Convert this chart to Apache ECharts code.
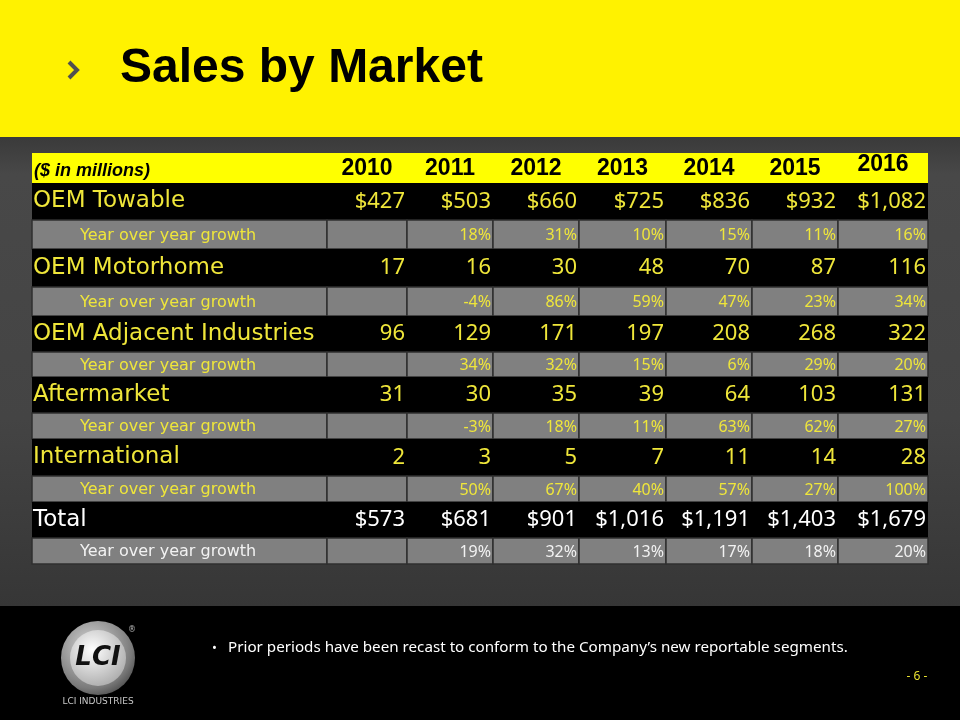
<!DOCTYPE html>
<html><head><meta charset="utf-8">
<script src="https://cdn.jsdelivr.net/npm/echarts@6/dist/echarts.min.js"></script>
<style>html,body{margin:0;padding:0;background:#000}#c{width:960px;height:720px}</style>
</head><body><div id="c"></div>
<script>
// ---- data ----
const title = 'Sales by Market';
const unitLabel = '($ in millions)';
const years = ['2010','2011','2012','2013','2014','2015','2016'];
const markets = ['OEM Towable','OEM Motorhome','OEM Adjacent Industries','Aftermarket','International','Total'];
const growthLabel = 'Year over year growth';
const oemTowable = [427,503,660,725,836,932,1082];
const oemTowableGrowth = [null,18,31,10,15,11,16];
const oemMotorhome = [17,16,30,48,70,87,116];
const oemMotorhomeGrowth = [null,-4,86,59,47,23,34];
const oemAdjacent = [96,129,171,197,208,268,322];
const oemAdjacentGrowth = [null,34,32,15,6,29,20];
const aftermarket = [31,30,35,39,64,103,131];
const aftermarketGrowth = [null,-3,18,11,63,62,27];
const international = [2,3,5,7,11,14,28];
const internationalGrowth = [null,50,67,40,57,27,100];
const total = [573,681,901,1016,1191,1403,1679];
const totalGrowth = [null,19,32,13,17,18,20];
const dollarMarkets = ['OEM Towable','Total'];
const footnote = 'Prior periods have been recast to conform to the Company\u2019s new reportable segments.';
const pageLabel = '- 6 -';
const companyName = 'LCI INDUSTRIES';

// ---- layout (table axis units) ----
const colEdges = [0,295,375,461,547,634,720,806,896];
const rowEdges = [0,30,67,96,134,163,199,224,260,286,323,349,385,411];

const YELLOW_TXT = '#EFE63A';
const LABEL_FONT = '"DejaVu Sans", sans-serif';
const NUM_FONT = '"Noto Sans", sans-serif';
const HEAD_FONT = '"Liberation Sans", Arial, sans-serif';

const valueSeries = [oemTowable, oemMotorhome, oemAdjacent, aftermarket, international, total];
const growthSeries = [oemTowableGrowth, oemMotorhomeGrowth, oemAdjacentGrowth, aftermarketGrowth, internationalGrowth, totalGrowth];

function fmtVal(m, v) {
  return dollarMarkets.indexOf(m) >= 0 ? '$' + v.toLocaleString('en-US') : v.toLocaleString('en-US');
}

const bands = [];
const cells = [];
bands.push({ c0: 0, c1: 8, r: 0, fill: '#FFFF00', stroke: null });
cells.push({ c0: 0, c1: 1, r: 0, text: unitLabel, align: 'left', pad: 2, font: 'italic bold 18px ' + HEAD_FONT, color: '#000', dy: 3 });
years.forEach((y, i) => {
  cells.push({ c0: i + 1, c1: i + 2, r: 0, text: y, align: 'center', pad: 0, font: 'bold 23px ' + HEAD_FONT, color: '#000', dy: i === years.length - 1 ? -3 : 1 });
});
markets.forEach((m, k) => {
  const rv = 1 + k * 2, rg = rv + 1;
  const isTotal = m === 'Total';
  const txt = isTotal ? '#FFFFFF' : YELLOW_TXT;
  const gtxt = isTotal ? '#F2F2F2' : YELLOW_TXT;
  bands.push({ c0: 0, c1: 8, r: rv, fill: '#000000', stroke: null });
  cells.push({ c0: 0, c1: 1, r: rv, text: m, align: 'left', pad: 1, font: '23px ' + LABEL_FONT, color: txt, dy: 0 });
  valueSeries[k].forEach((v, i) => {
    cells.push({ c0: i + 1, c1: i + 2, r: rv, text: fmtVal(m, v), align: 'right', pad: 2, font: '22px ' + NUM_FONT, color: txt, dy: 0 });
  });
  for (let c = 0; c < 8; c++) bands.push({ c0: c, c1: c + 1, r: rg, fill: '#808080', stroke: '#2f2f2f' });
  cells.push({ c0: 0, c1: 1, r: rg, text: growthLabel, align: 'left', pad: 48, font: '16px ' + LABEL_FONT, color: gtxt, dy: 1 });
  growthSeries[k].forEach((g, i) => {
    if (g === null) return;
    cells.push({ c0: i + 1, c1: i + 2, r: rg, text: g + '%', align: 'right', pad: 2, font: '16px ' + NUM_FONT, color: gtxt, dy: 1 });
  });
});

function cellRect(api, d) {
  const p0 = api.coord([colEdges[d.c0], rowEdges[d.r]]);
  const p1 = api.coord([colEdges[d.c1], rowEdges[d.r + 1]]);
  return { x: p0[0], y: p0[1], w: p1[0] - p0[0], h: p1[1] - p0[1] };
}

const chart = echarts.init(document.getElementById('c'), null, { renderer: 'canvas' });

const logo = {
  type: 'group', children: [
    { type: 'circle', shape: { cx: 98, cy: 658, r: 37 }, style: { fill: new echarts.graphic.RadialGradient(0.4, 0.35, 0.8, [{ offset: 0, color: '#d8d8d8' }, { offset: 0.7, color: '#7a7a7a' }, { offset: 1, color: '#333' }]) } },
    { type: 'circle', shape: { cx: 98, cy: 658, r: 28 }, style: { fill: new echarts.graphic.RadialGradient(0.4, 0.35, 0.8, [{ offset: 0, color: '#ffffff' }, { offset: 1, color: '#a0a0a0' }]) } },
    { type: 'text', x: 98, y: 658, style: { text: 'LCI', align: 'center', verticalAlign: 'middle', font: 'italic bold 26px "DejaVu Sans", sans-serif', fill: '#111' } },
    { type: 'text', x: 132, y: 630, style: { text: '\u00AE', align: 'center', verticalAlign: 'middle', font: '8px "DejaVu Sans", sans-serif', fill: '#bbb' } },
    { type: 'text', x: 98, y: 702, style: { text: companyName, align: 'center', verticalAlign: 'middle', font: '9px "DejaVu Sans", sans-serif', fill: '#c8c8c8' } }
  ]
};

chart.setOption({
  animation: false,
  backgroundColor: '#000',
  graphic: [
    { type: 'rect', z: -10, shape: { x: 0, y: 0, width: 960, height: 137 }, style: { fill: '#FFF200' } },
    { type: 'rect', z: -10, shape: { x: 0, y: 137, width: 960, height: 469 }, style: { fill: new echarts.graphic.LinearGradient(0, 0, 0, 1, [{ offset: 0, color: '#3a3a3a' }, { offset: 0.08, color: '#484848' }, { offset: 0.6, color: '#444444' }, { offset: 1, color: '#363636' }]) } },
    { type: 'rect', z: -10, shape: { x: 0, y: 606, width: 960, height: 114 }, style: { fill: '#000' } },
    { type: 'polyline', shape: { points: [[69, 62], [77, 70], [69, 78]] }, style: { stroke: '#505050', lineWidth: 4, fill: null } },
    { type: 'text', x: 120, y: 69, style: { text: title, font: 'bold 48px "Liberation Sans", Arial, sans-serif', fill: '#000', verticalAlign: 'middle' } },
    { type: 'text', x: 212, y: 648, style: { text: '\u2022', font: '13px "Noto Sans", sans-serif', fill: '#fff', verticalAlign: 'middle' } },
    { type: 'text', x: 228, y: 648, style: { text: footnote, font: '15.2px "Noto Sans", sans-serif', fill: '#fff', verticalAlign: 'middle' } },
    { type: 'text', x: 917, y: 677, style: { text: pageLabel, font: '12px "Noto Sans", sans-serif', fill: '#E8E030', align: 'center', verticalAlign: 'middle' } },
    logo
  ],
  grid: { left: 32, top: 153, width: 896, height: 411 },
  xAxis: { type: 'value', min: 0, max: 896, show: false },
  yAxis: { type: 'value', min: 0, max: 411, inverse: true, show: false },
  series: [
    {
      type: 'custom', clip: false, z: 1,
      data: bands.map(b => [b.c0, b.r]),
      renderItem: function (params, api) {
        const b = bands[params.dataIndex];
        const r = cellRect(api, b);
        return {
          type: 'rect',
          shape: { x: r.x, y: r.y, width: r.w, height: r.h },
          style: b.stroke ? { fill: b.fill, stroke: b.stroke, lineWidth: 1.5 } : { fill: b.fill }
        };
      }
    },
    {
      type: 'custom', clip: false, z: 2,
      data: cells.map(c => [c.c0, c.r]),
      renderItem: function (params, api) {
        const d = cells[params.dataIndex];
        const r = cellRect(api, d);
        let x;
        if (d.align === 'left') x = r.x + d.pad;
        else if (d.align === 'right') x = r.x + r.w - d.pad;
        else x = r.x + r.w / 2;
        return {
          type: 'text',
          x: x, y: r.y + r.h / 2 + d.dy,
          style: { text: d.text, align: d.align, verticalAlign: 'middle', font: d.font, fill: d.color }
        };
      }
    }
  ]
});
</script>
</body></html>
